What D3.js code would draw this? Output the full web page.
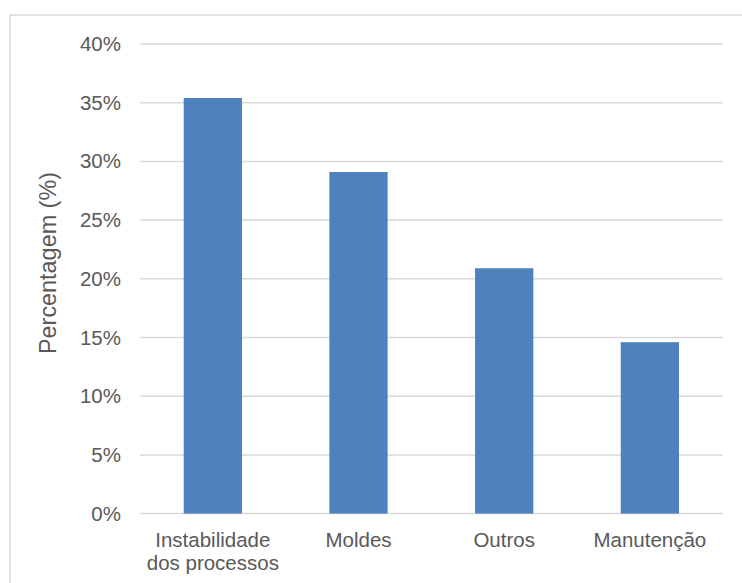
<!DOCTYPE html>
<html>
<head>
<meta charset="utf-8">
<script src="https://cdn.jsdelivr.net/npm/d3@7"></script>
<style>
  html, body { margin: 0; padding: 0; background: #fff; }
  svg { display: block; }
  text { font-family: "Liberation Sans", Arial, sans-serif; fill: #595959; }
</style>
</head>
<body>
<svg id="chart" width="742" height="583"></svg>
<script>
const categories = [["Instabilidade", "dos processos"], ["Moldes"], ["Outros"], ["Manutenção"]];
const values = [0.354, 0.291, 0.209, 0.146];
const yTicks = [0, 0.05, 0.10, 0.15, 0.20, 0.25, 0.30, 0.35, 0.40];
const yTitle = "Percentagem (%)";

const svg = d3.select("#chart");
const W = 742, H = 583;
const plot = { left: 140, right: 722.7, top: 44, bottom: 513.6 };

// frame (left + top, continues past the picture edges)
svg.append("path")
  .attr("d", `M10,${H + 5}V15H${W + 5}`)
  .attr("fill", "none")
  .attr("stroke", "#d9d9d9")
  .attr("stroke-width", 1.5);

const keys = categories.map(c => c.join(" "));
const x = d3.scaleBand().domain(keys).range([plot.left, plot.right])
  .paddingInner(0.6).paddingOuter(0.3);
const y = d3.scaleLinear().domain([0, 0.40]).range([plot.bottom, plot.top]);

// gridlines
svg.append("g").selectAll("line").data(yTicks).join("line")
  .attr("x1", plot.left).attr("x2", plot.right)
  .attr("y1", d => y(d)).attr("y2", d => y(d))
  .attr("stroke", "#d9d9d9").attr("stroke-width", 1.5);

// y axis labels
const yAxis = d3.axisLeft(y).tickValues(yTicks).tickFormat(d3.format(".0%")).tickSize(0).tickPadding(0);
const gy = svg.append("g").attr("transform", `translate(121,0)`).call(yAxis);
gy.select(".domain").remove();
gy.selectAll("text").style("font-size", "20.5px").attr("fill", "#595959")
  .style("font-family", '"Liberation Sans", Arial, sans-serif');

// bars
svg.append("g").selectAll("rect").data(values).join("rect")
  .attr("x", (d, i) => x(keys[i]))
  .attr("width", x.bandwidth())
  .attr("y", d => y(d))
  .attr("height", d => y(0) - y(d))
  .attr("fill", "#4f81bd");

// category labels
const cat = svg.append("g").selectAll("text").data(categories).join("text")
  .attr("x", (d, i) => x(keys[i]) + x.bandwidth() / 2)
  .attr("y", 546.5)
  .attr("text-anchor", "middle")
  .style("font-size", "20.5px");
cat.selectAll("tspan").data(d => d).join("tspan")
  .attr("x", function() { return this.parentNode.getAttribute("x"); })
  .attr("dy", (d, i) => i === 0 ? 0 : 23.5)
  .text(d => d);

// y title
svg.append("text")
  .attr("transform", `translate(56,263) rotate(-90)`)
  .attr("text-anchor", "middle")
  .style("font-size", "23.4px")
  .text(yTitle);
</script>
</body>
</html>
